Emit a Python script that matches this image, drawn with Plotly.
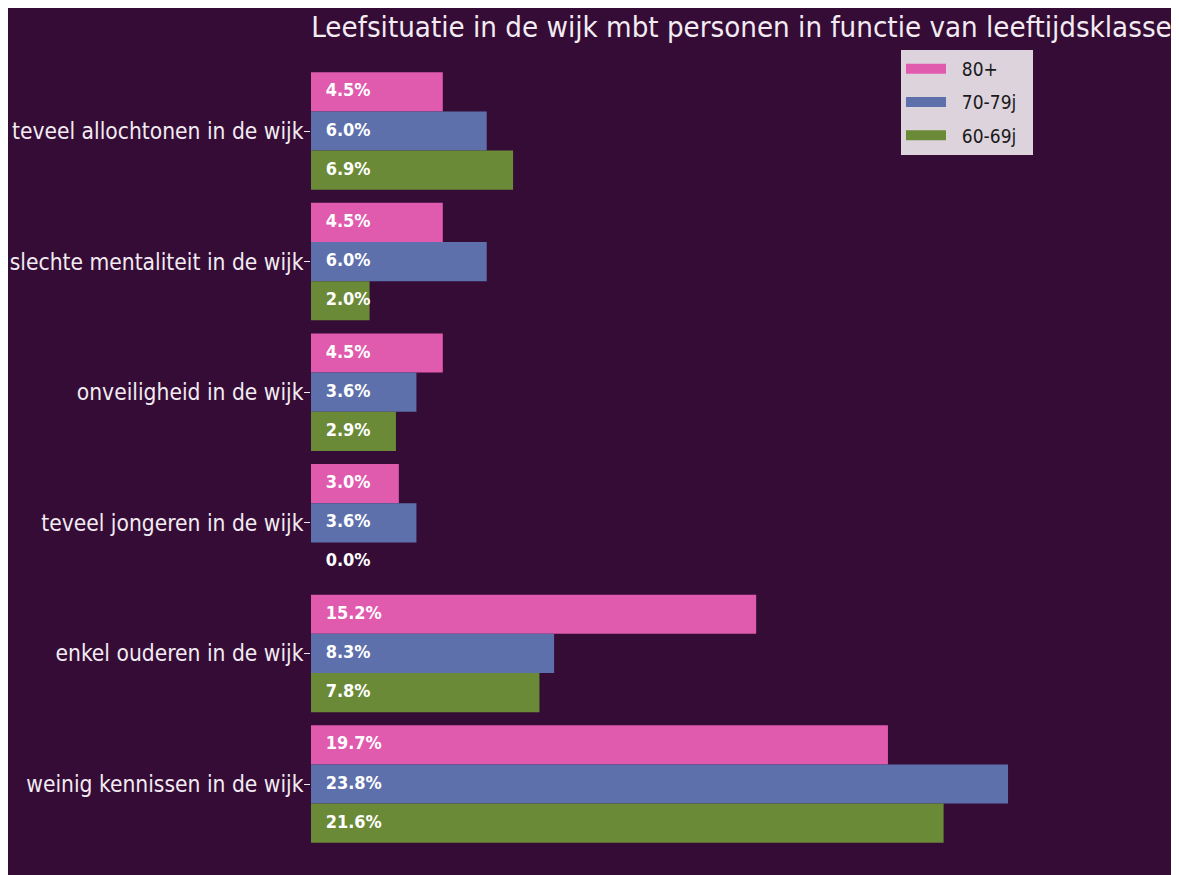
import plotly.graph_objects as go

categories = [
    "teveel allochtonen in de wijk",
    "slechte mentaliteit in de wijk",
    "onveiligheid in de wijk",
    "teveel jongeren in de wijk",
    "enkel ouderen in de wijk",
    "weinig kennissen in de wijk",
]
series_names = ["80+", "70-79j", "60-69j"]
vals_80 = [4.5, 4.5, 4.5, 3.0, 15.2, 19.7]
vals_70 = [6.0, 6.0, 3.6, 3.6, 8.3, 23.8]
vals_60 = [6.9, 2.0, 2.9, 0.0, 7.8, 21.6]
title_text = "Leefsituatie in de wijk mbt personen in functie van leeftijdsklasse"

series_vals = [vals_80, vals_70, vals_60]
colors = ["#e05aae", "#5d70ac", "#6a8a37"]
BG = "#350c36"
TXT = "#f2ebf2"
FONT = "DejaVu Sans Condensed, DejaVu Sans, sans-serif"
NB = "\u00a0"

W, H = 1179, 875
ML, MR, MT, MB = 303, 17, 37, 0

BAR_W = 0.3
LABEL_PAD = 0.5  # x offset of value labels (data units)

idx = list(range(len(categories)))
fig = go.Figure()
for k, (name, vals, col) in enumerate(zip(series_names, series_vals, colors)):
    ys = [i + (k - 1) * BAR_W for i in idx]
    fig.add_trace(go.Bar(
        x=vals, y=ys, orientation="h", width=BAR_W, name=name,
        marker=dict(color=col, line=dict(width=0)), showlegend=False,
        hoverinfo="x+name",
    ))
    fig.add_trace(go.Scatter(
        x=[LABEL_PAD] * len(vals), y=ys, mode="text",
        text=[f"{v:.1f}%" for v in vals], textposition="middle right",
        textfont=dict(family=FONT, size=18, color="white", weight="bold"),
        showlegend=False, hoverinfo="skip",
    ))
    # legend entry
    fig.add_trace(go.Scatter(
        x=[None], y=[None], mode="lines", name=NB * 2 + name + NB * 2,
        legendgroup=name,
        line=dict(color=col, width=14), showlegend=True,
    ))

fig.update_layout(
    width=W, height=H,
    barmode="overlay",
    paper_bgcolor=BG, plot_bgcolor=BG,
    margin=dict(l=ML, r=MR, t=MT, b=MB, autoexpand=False),
    title=dict(text=title_text, x=733.5 / W, xanchor="center",
               y=1 - 19 / H, yanchor="middle",
               font=dict(family=FONT, size=29.2, color=TXT)),
    xaxis=dict(range=[0, 29.33], showgrid=False, zeroline=False, showticklabels=False,
               ticks="", showline=False),
    yaxis=dict(range=[5.758, -0.6585], tickvals=idx, ticktext=categories,
               showgrid=False, zeroline=False, showline=False,
               ticks="outside", ticklen=6, tickcolor=TXT, tickwidth=1,
               ticklabelstandoff=-4,
               tickfont=dict(family=FONT, size=22.6, color=TXT)),
    legend=dict(x=1025 / W, xref="container", xanchor="right",
                y=1 - 42 / H, yref="container", yanchor="top",
                bgcolor="rgba(232,224,232,0.94)", bordercolor="rgba(0,0,0,0)",
                font=dict(family=FONT, size=19, color="#1a1a1a"),
                itemwidth=40, tracegroupgap=5.5, traceorder="grouped"),
)

fig.write_html("out.html")
